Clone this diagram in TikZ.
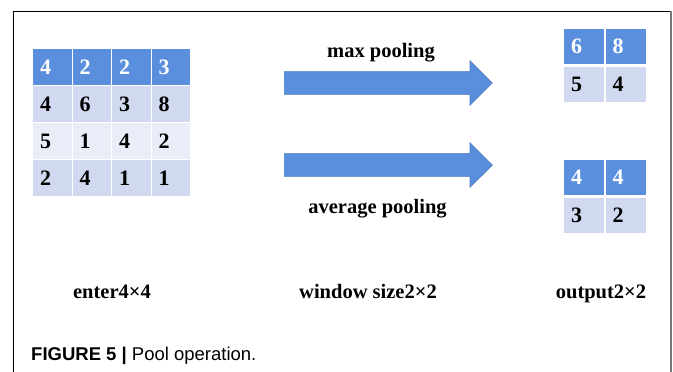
\documentclass[tikz,border=0pt]{standalone}
\usepackage{fontspec}
\setmainfont{Liberation Serif}
\newfontfamily\capfont{Liberation Sans}
\usetikzlibrary{shapes.arrows}
\definecolor{hdblue}{RGB}{90,143,222}
\definecolor{arrblue}{RGB}{90,143,222}
\definecolor{arredge}{RGB}{72,118,190}
\definecolor{rowa}{RGB}{208,217,240}
\definecolor{rowb}{RGB}{233,237,248}
\definecolor{framegray}{RGB}{120,120,120}
\tikzset{
  cellbase/.style={draw=none, rectangle, anchor=north west, inner xsep=7pt, inner ysep=0pt,
    text width=24.5pt, align=left, minimum height=35.5pt,
    font=\fontsize{22}{22}\selectfont\bfseries},
  hdcell/.style={cellbase, fill=hdblue, text=white},
  acell/.style={cellbase, fill=rowa, text=black},
  bcell/.style={cellbase, fill=rowb, text=black},
  ocellh/.style={cellbase, text width=26pt, minimum height=35pt, fill=hdblue, text=white},
  ocell/.style={cellbase, text width=26pt, minimum height=35pt, fill=rowa, text=black},
  bigarrow/.style={single arrow, draw=arredge, fill=arrblue, line width=0.6pt,
    minimum height=208pt, minimum width=44pt, inner sep=0pt, text height=22pt,
    single arrow head extend=11pt, single arrow tip angle=90, anchor=west, shape border rotate=0},
  lbl/.style={font=\fontsize{20.5}{21}\selectfont\bfseries, inner sep=0pt, anchor=base},
}
\begin{document}
\begin{tikzpicture}[x=1pt,y=-1pt]
\useasboundingbox (0,0) rectangle (673,372);
\fill[white] (0,0) rectangle (673,372);
% frame
\coordinate (fl) at (13,372);
\coordinate (ftl) at (13,11);
\coordinate (ftr) at (671,11);
\coordinate (fr) at (671,372);
\draw[black, line width=0.9pt] (fl) -- (ftl) -- (ftr);
\draw[framegray, line width=2pt] (ftr) -- (fr);
% input grid
\foreach \r/\sty/\y/\a/\b/\c/\d in {0/hdcell/49/4/2/2/3, 1/acell/86/4/6/3/8, 2/bcell/123/5/1/4/2, 3/acell/160/2/4/1/1}{
  \node[\sty] (i\r a) at (33,\y) {\a};
  \node[\sty] (i\r b) at (72.5,\y) {\b};
  \node[\sty] (i\r c) at (112,\y) {\c};
  \node[\sty] (i\r d) at (151.5,\y) {\d};
}
% output grids
\node[ocellh] (m0a) at (564,29) {6};
\node[ocellh] (m0b) at (605.5,29) {8};
\node[ocell] (m1a) at (564,67) {5};
\node[ocell] (m1b) at (605.5,67) {4};
\node[ocellh] (v0a) at (564,160) {4};
\node[ocellh] (v0b) at (605.5,160) {4};
\node[ocell] (v1a) at (564,197.5) {3};
\node[ocell] (v1b) at (605.5,197.5) {2};
% arrows
\node[bigarrow] (amax) at (284,83) {};
\node[bigarrow] (aavg) at (284,165) {};
% labels
\node[lbl] (lmax) at (381,57) {max pooling};
\node[lbl] (lavg) at (377.5,213) {average pooling};
\node[lbl] (lin) at (112,298) {enter4×4};
\node[lbl] (lwin) at (368,298) {window size2×2};
\node[lbl] (lout) at (601,298) {output2×2};
% caption
\node[anchor=base west, inner sep=0pt, font=\capfont\fontsize{18.5}{19}\selectfont] (cap) at (31,360) {\textbf{FIGURE 5 |} Pool operation.};
\end{tikzpicture}
\end{document}
